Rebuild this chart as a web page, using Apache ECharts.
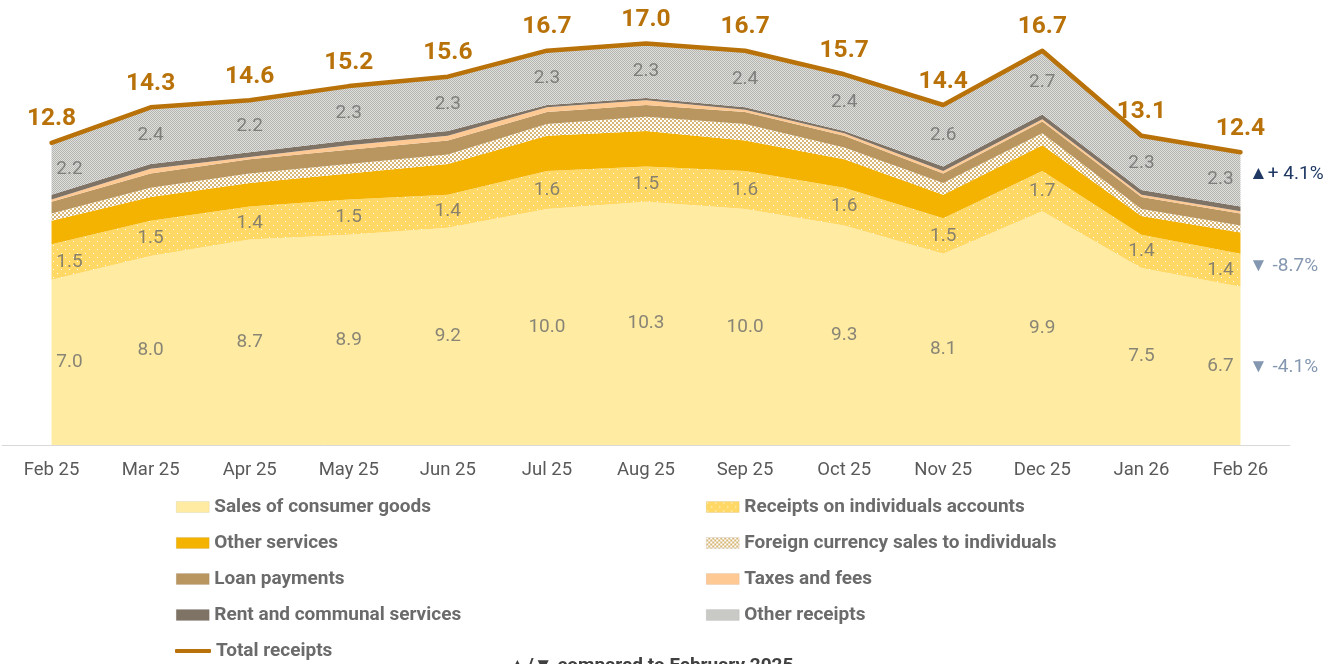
<!DOCTYPE html>
<html>
<head>
<meta charset="utf-8">
<script src="https://cdn.jsdelivr.net/npm/echarts@6/dist/echarts.min.js"></script>
<style>
  html, body { margin: 0; padding: 0; background: #fff; }
  #chart { width: 1336px; height: 664px; }
</style>
</head>
<body>
<div id="chart"></div>
<script>
const months = ["Feb 25", "Mar 25", "Apr 25", "May 25", "Jun 25", "Jul 25", "Aug 25", "Sep 25", "Oct 25", "Nov 25", "Dec 25", "Jan 26", "Feb 26"];

const sales = [7.0, 8.0, 8.7, 8.9, 9.2, 10.0, 10.3, 10.0, 9.3, 8.1, 9.9, 7.5, 6.7];
const receipts = [1.5, 1.5, 1.4, 1.5, 1.4, 1.6, 1.5, 1.6, 1.6, 1.5, 1.7, 1.4, 1.4];
const services = [1.0, 1.0, 1.0, 1.1, 1.3, 1.5, 1.5, 1.3, 1.2, 1.0, 1.1, 0.8, 0.9];
const foreignFx = [0.3, 0.4, 0.4, 0.4, 0.4, 0.5, 0.6, 0.7, 0.5, 0.5, 0.5, 0.3, 0.3];
const loans = [0.5, 0.6, 0.6, 0.6, 0.6, 0.5, 0.5, 0.5, 0.5, 0.4, 0.5, 0.5, 0.5];
const taxes = [0.1, 0.2, 0.1, 0.2, 0.2, 0.2, 0.2, 0.1, 0.1, 0.1, 0.1, 0.1, 0.1];
const rent = [0.2, 0.2, 0.2, 0.2, 0.2, 0.1, 0.1, 0.1, 0.1, 0.2, 0.2, 0.2, 0.2];
const otherReceipts = [2.2, 2.4, 2.2, 2.3, 2.3, 2.3, 2.3, 2.4, 2.4, 2.6, 2.7, 2.3, 2.3];
const total = [12.8, 14.3, 14.6, 15.2, 15.6, 16.7, 17.0, 16.7, 15.7, 14.4, 16.7, 13.1, 12.4];

const changeLabels = ["▲+ 4.1%", "▼ -8.7%", "▼ -4.1%"];

// small canvas tiles used as pattern fills
function makeTile(w, h, bg, fg, cells) {
    const c = document.createElement("canvas");
    c.width = w; c.height = h;
    const ctx = c.getContext("2d");
    ctx.fillStyle = bg;
    ctx.fillRect(0, 0, w, h);
    ctx.fillStyle = fg;
    cells.forEach(([x, y, cw, ch]) => ctx.fillRect(x, y, cw, ch));
    return { image: c, repeat: "repeat" };
}

const receiptsFill = makeTile(8, 8, "#FFD865", "#FFFFFF", [[1, 1, 1, 1], [5, 5, 1, 1]]);
const foreignFill = makeTile(4, 4, "#D8B676", "#FFFFFF", [[0, 0, 2, 2], [2, 2, 2, 2]]);
const otherFill = makeTile(2, 2, "#DEDEDA", "#B4B4B0", [[0, 0, 1, 1], [1, 1, 1, 1]]);

const layers = [
    { name: "Sales of consumer goods", data: sales, color: "#FFEBA1" },
    { name: "Receipts on individuals accounts", data: receipts, color: receiptsFill },
    { name: "Other services", data: services, color: "#F3B300" },
    { name: "Foreign currency sales to individuals", data: foreignFx, color: foreignFill },
    { name: "Loan payments", data: loans, color: "#B99660" },
    { name: "Taxes and fees", data: taxes, color: "#FFC994" },
    { name: "Rent and communal services", data: rent, color: "#7F7366" },
    { name: "Other receipts", data: otherReceipts, color: otherFill }
];

// middle of a band in the stack, for the value labels
function bandMid(layerIdx) {
    return months.map((m, i) => {
        let base = 0;
        for (let k = 0; k < layerIdx; k++) base += layers[k].data[i];
        return [i, base + layers[layerIdx].data[i] / 2, layers[layerIdx].data[i]];
    });
}

function labelSeries(layerIdx) {
    const last = months.length - 1;
    return {
        type: "scatter",
        symbolSize: 0,
        silent: true,
        z: 5,
        data: bandMid(layerIdx).map((d, i) => ({
            value: d,
            label: { offset: i === 0 ? [18, 0] : (i === last ? [-20, 0] : [0, 0]) }
        })),
        label: {
            show: true,
            position: "inside",
            formatter: p => p.value[2].toFixed(1),
            color: "#6B6B6B",
            fontSize: 19,
            fontFamily: "Roboto"
        }
    };
}

const chart = echarts.init(document.getElementById("chart"));

const legendText = { color: "#6B6B6B", fontSize: 19, fontWeight: "bold", fontFamily: "Roboto", lineHeight: 20 };
const legendItem = l => ({ name: l.name, icon: "rect", itemStyle: { color: l.color, borderColor: "rgba(0,0,0,0.12)", borderWidth: 0.5 } });

chart.setOption({
    animation: false,
    textStyle: { fontFamily: "Roboto" },
    grid: { left: 2, right: 46, top: 20, bottom: 219 },
    xAxis: {
        type: "category",
        data: months,
        boundaryGap: true,
        axisLine: { lineStyle: { color: "#D9D9D9", width: 1 } },
        axisTick: { show: false },
        axisLabel: { color: "#595959", fontSize: 18.5, margin: 16 }
    },
    yAxis: {
        type: "value",
        min: 0,
        max: 18,
        show: false,
        splitLine: { show: false }
    },
    legend: [
        {
            orient: "vertical", left: 176, top: 497, padding: 0, itemWidth: 33, itemHeight: 11, itemGap: 16,
            textStyle: legendText, selectedMode: false,
            data: [layers[0], layers[2], layers[4], layers[6]].map(legendItem)
        },
        {
            orient: "vertical", left: 706, top: 497, padding: 0, itemWidth: 33, itemHeight: 11, itemGap: 16,
            textStyle: legendText, selectedMode: false,
            data: [layers[1], layers[3], layers[5], layers[7]].map(legendItem)
        },
        {
            orient: "vertical", left: 175, top: 641, padding: 0, itemWidth: 36, itemHeight: 4,
            textStyle: legendText, selectedMode: false,
            data: [{ name: "Total receipts", icon: "roundRect", itemStyle: { color: "#B87209" } }]
        }
    ],
    series: [
        ...layers.map(l => ({
            name: l.name,
            type: "line",
            stack: "receipts",
            data: l.data,
            symbol: "none",
            lineStyle: { width: 0 },
            itemStyle: { color: l.color },
            areaStyle: { color: l.color, opacity: 1 }
        })),
        {
            name: "Total receipts",
            type: "line",
            data: total,
            symbol: "circle",
            symbolSize: 0,
            showSymbol: true,
            z: 4,
            lineStyle: { color: "#B87209", width: 4.5, join: "round", cap: "round" },
            itemStyle: { color: "#B87209" },
            label: {
                show: true,
                position: "top",
                distance: 11,
                color: "#B87209",
                fontSize: 24.5,
                fontWeight: "bold",
                fontFamily: "Roboto",
                formatter: p => p.value.toFixed(1)
            }
        },
        labelSeries(0),
        labelSeries(1),
        labelSeries(7)
    ],
    graphic: [
        { type: "text", left: 1249, top: 165, style: { text: changeLabels[0], fill: "#1F3864", fontSize: 19, fontFamily: "Roboto" } },
        { type: "text", left: 1249, top: 257, style: { text: changeLabels[1], fill: "#8497B0", fontSize: 19, fontFamily: "Roboto" } },
        { type: "text", left: 1249, top: 358, style: { text: changeLabels[2], fill: "#8497B0", fontSize: 19, fontFamily: "Roboto" } },
        { type: "text", left: 508, top: 657, style: { text: "▲/▼ compared to February 2025", fill: "#404040", fontSize: 19, fontWeight: "bold", fontFamily: "Roboto" } }
    ]
});
</script>
</body>
</html>
